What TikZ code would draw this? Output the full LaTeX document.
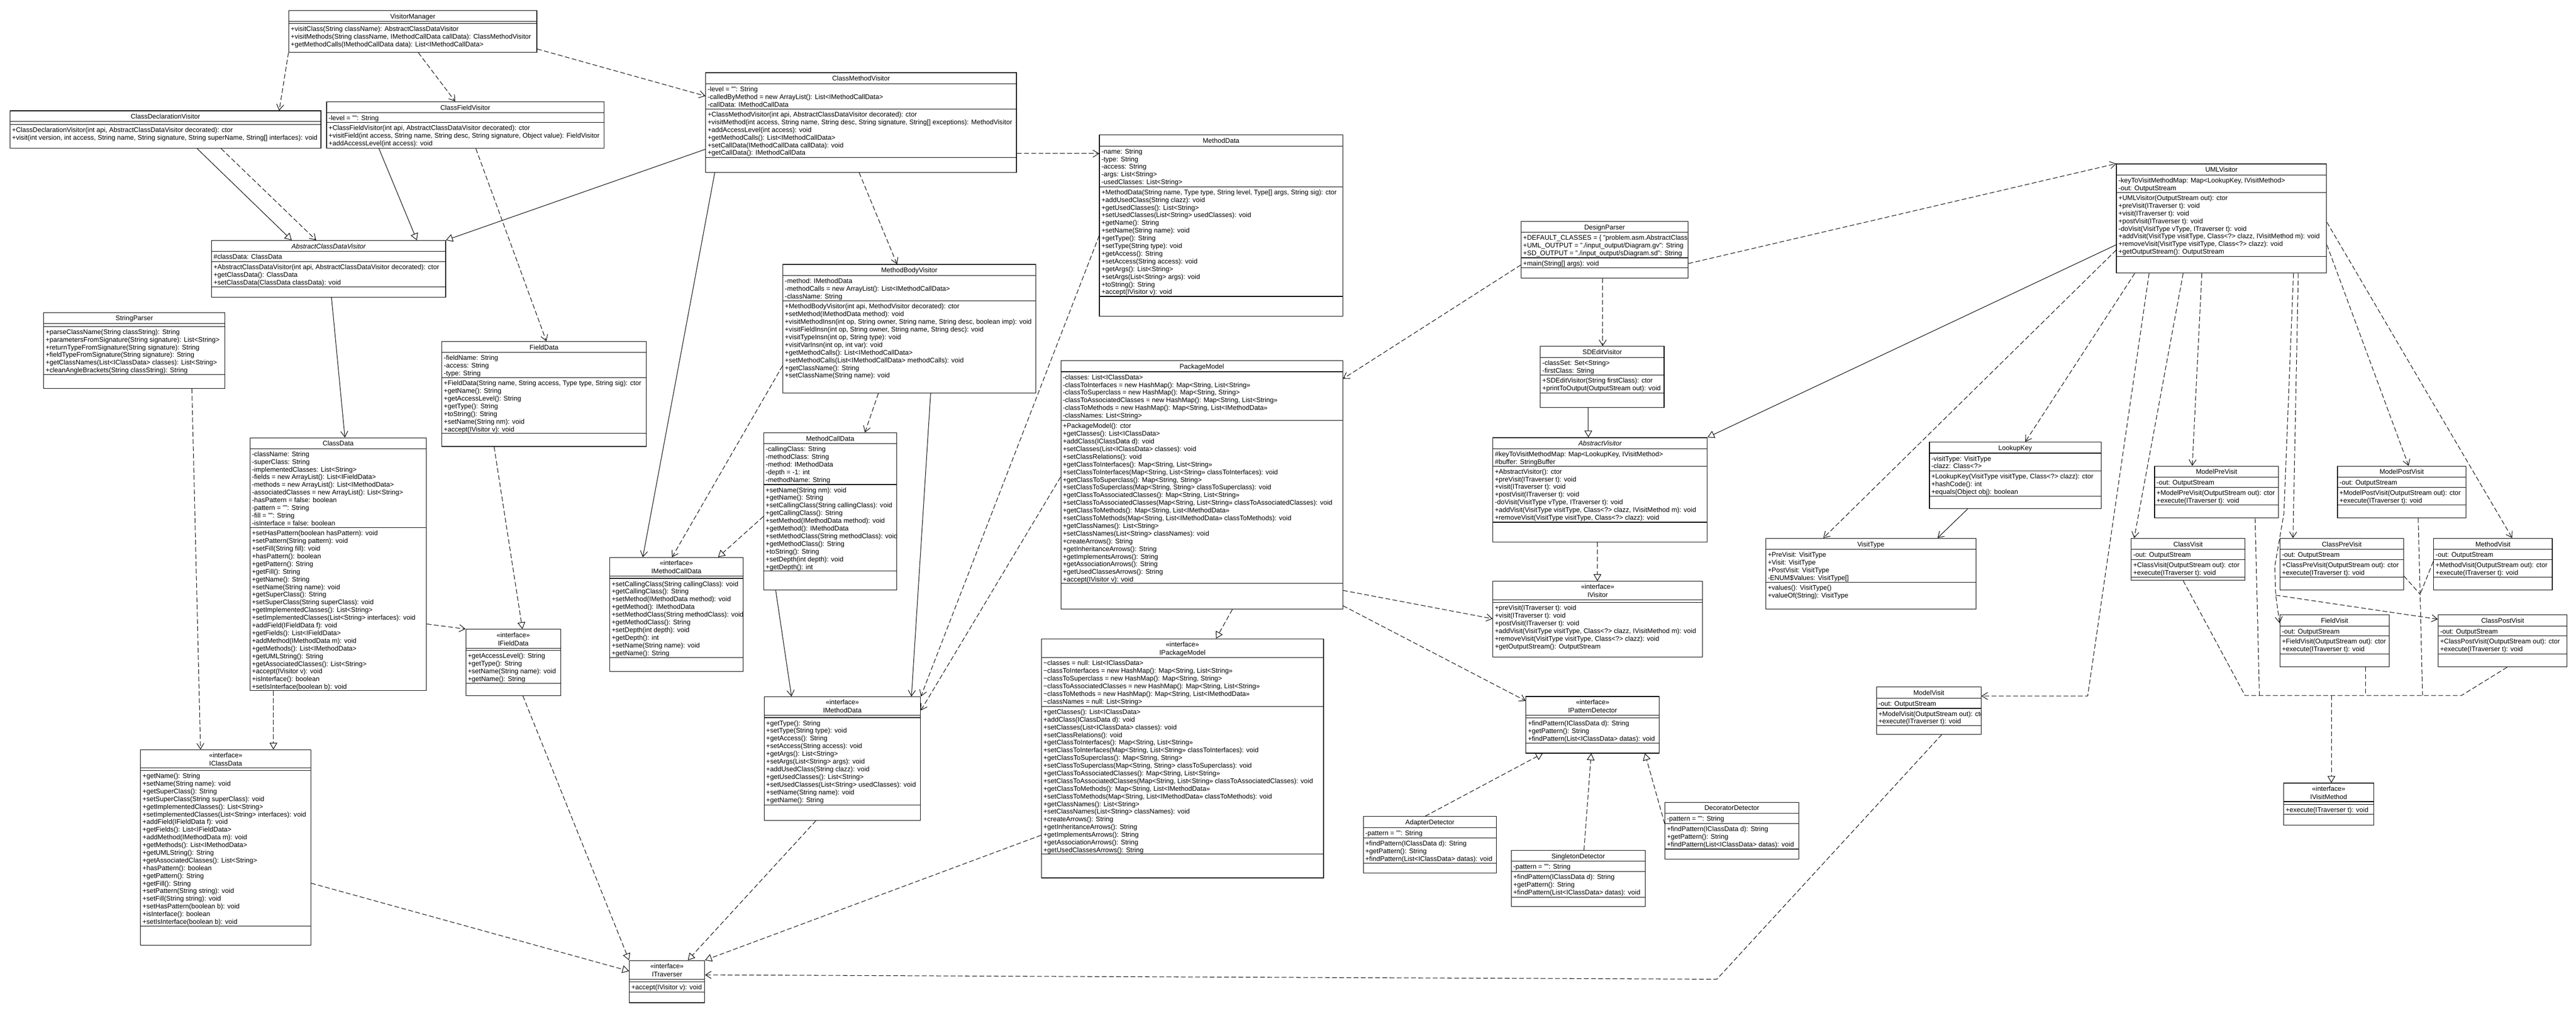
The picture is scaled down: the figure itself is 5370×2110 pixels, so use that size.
\documentclass[tikz,border=0pt]{standalone}
\usepackage{fontspec}
\setmainfont{Liberation Sans}
\usetikzlibrary{arrows.meta,fit}
\newcommand\fs{\fontsize{14}{16}\selectfont}
\tikzset{
  boxline/.style={draw, line width=1.3pt},
  sepline/.style={line width=1.2pt},
  ttl/.style={inner sep=0pt, anchor=base, font=\fs},
  txt/.style={anchor=north west, inner sep=0pt, align=left, font=\fs},
  conn/.style={line width=1.1pt},
  dsh/.style={conn, dash pattern=on 10pt off 5pt},
  dep/.style={dsh, -{Straight Barb[length=12pt,width=15pt]}},
  assoc/.style={conn, -{Straight Barb[length=12pt,width=15pt]}},
  gen/.style={conn, -{Triangle[length=14pt,width=16pt,fill=white]}},
  real/.style={dsh, -{Triangle[length=14pt,width=16pt,fill=white]}},
}
% name x1 y1 x2 y2 titlebottom title
\newcommand\ubox[7]{%
  \node[boxline, fit={({#2},{#3}) ({#4},{#5})}, inner sep=0pt] (#1) {};
  \node[ttl] (#1-t) at ({(#2+#4)/2},{(#3+#6)/2+5.5}) {#7};
  \draw[sepline] ({#2},{#6}) -- ({#4},{#6});}
\newcommand\uibox[7]{%
  \node[boxline, fit={({#2},{#3}) ({#4},{#5})}, inner sep=0pt] (#1) {};
  \node[ttl] (#1-s) at ({(#2+#4)/2},{(#3+#6)/2-3}) {«interface»};
  \node[ttl] (#1-t) at ({(#2+#4)/2},{(#3+#6)/2+14}) {#7};
  \draw[sepline] ({#2},{#6}) -- ({#4},{#6});}
\newcommand\usep[3]{\draw[sepline] ({#1},{#3}) -- ({#2},{#3});}
\newcommand\utx[4]{\node[txt] (#1) at ({#2+4},{#3+5}) {\rule{0pt}{11pt}#4};}
\newcommand\uvisit[6]{%
  \ubox{#1}{#2}{#3}{#4}{#5}{#3+23}{#6}
  \utx{#1-a}{#2}{#3+23}{-out: OutputStream}
  \usep{#2}{#4}{#3+44}
  \utx{#1-m}{#2}{#3+44}{+#6(OutputStream out): ctor\\+execute(ITraverser t): void}
  \usep{#2}{#4}{#3+81}}
\newcommand\udet[6]{%
  \ubox{#1}{#2}{#3}{#4}{#5}{#3+23}{#6}
  \utx{#1-a}{#2}{#3+23}{-pattern = "": String}
  \usep{#2}{#4}{#3+44.6}
  \utx{#1-m}{#2}{#3+44.6}{+findPattern(IClassData d): String\\+getPattern(): String\\+findPattern(List<IClassData> datas): void}
  \usep{#2}{#4}{#3+97.6}}
\begin{document}
\begin{tikzpicture}[x=1pt,y=-1pt]
\fill[white] (0,0) rectangle (5370,2110);
\useasboundingbox (0,0) rectangle (5370,2110);

% VisitorManager
\ubox{vm}{602}{22}{1119}{109}{44.5}{VisitorManager}
\usep{602}{1119}{49}
\utx{vm-m}{602}{49}{+visitClass(String className): AbstractClassDataVisitor\\+visitMethods(String className, IMethodCallData callData): ClassMethodVisitor\\+getMethodCalls(IMethodCallData data): List<IMethodCallData>}

% ClassDeclarationVisitor
\ubox{cdv}{21}{231}{669}{309}{253}{ClassDeclarationVisitor}
\usep{21}{669}{259}
\utx{cdv-m}{21}{259}{+ClassDeclarationVisitor(int api, AbstractClassDataVisitor decorated): ctor\\+visit(int version, int access, String name, String signature, String superName, String[] interfaces): void}

% ClassFieldVisitor
\ubox{cfv}{681}{212}{1259}{309}{235}{ClassFieldVisitor}
\utx{cfv-a}{681}{235}{-level = "": String}
\usep{681}{1259}{255}
\utx{cfv-m}{681}{255}{+ClassFieldVisitor(int api, AbstractClassDataVisitor decorated): ctor\\+visitField(int access, String name, String desc, String signature, Object value): FieldVisitor\\+addAccessLevel(int access): void}

% AbstractClassDataVisitor
\ubox{acdv}{441}{501}{929}{619}{524}{\itshape AbstractClassDataVisitor}
\utx{acdv-a}{441}{524}{\#classData: ClassData}
\usep{441}{929}{545}
\utx{acdv-m}{441}{545}{+AbstractClassDataVisitor(int api, AbstractClassDataVisitor decorated): ctor\\+getClassData(): ClassData\\+setClassData(ClassData classData): void}
\usep{441}{929}{598}

% StringParser
\ubox{sp}{91}{651}{469}{809}{674}{StringParser}
\usep{91}{469}{680}
\utx{sp-m}{91}{680}{+parseClassName(String classString): String\\+parametersFromSignature(String signature): List<String>\\+returnTypeFromSignature(String signature): String\\+fieldTypeFromSignature(String signature): String\\+getClassNames(List<IClassData> classes): List<String>\\+cleanAngleBrackets(String classString): String}
\usep{91}{469}{780}

% ClassMethodVisitor
\ubox{cmv}{1471}{151.5}{2119}{359}{174.5}{ClassMethodVisitor}
\utx{cmv-a}{1471}{174.5}{-level = "": String\\-calledByMethod = new ArrayList(): List<IMethodCallData>\\-callData: IMethodCallData}
\usep{1471}{2119}{227}
\utx{cmv-m}{1471}{227}{+ClassMethodVisitor(int api, AbstractClassDataVisitor decorated): ctor\\+visitMethod(int access, String name, String desc, String signature, String[] exceptions): MethodVisitor\\+addAccessLevel(int access): void\\+getMethodCalls(): List<IMethodCallData>\\+setCallData(IMethodCallData callData): void\\+getCallData(): IMethodCallData}
\usep{1471}{2119}{328}

% MethodData
\ubox{md}{2292}{281}{2799}{659}{304}{MethodData}
\utx{md-a}{2292}{304}{-name: String\\-type: String\\-access: String\\-args: List<String>\\-usedClasses: List<String>}
\usep{2292}{2799}{389}
\utx{md-m}{2292}{389}{+MethodData(String name, Type type, String level, Type[] args, String sig): ctor\\+addUsedClass(String clazz): void\\+getUsedClasses(): List<String>\\+setUsedClasses(List<String> usedClasses): void\\+getName(): String\\+setName(String name): void\\+getType(): String\\+setType(String type): void\\+getAccess(): String\\+setAccess(String access): void\\+getArgs(): List<String>\\+setArgs(List<String> args): void\\+toString(): String\\+accept(IVisitor v): void}
\usep{2292}{2799}{617.5}

% MethodBodyVisitor
\ubox{mbv}{1632}{551}{2159}{819}{574}{MethodBodyVisitor}
\utx{mbv-a}{1632}{574}{-method: IMethodData\\-methodCalls = new ArrayList(): List<IMethodCallData>\\-className: String}
\usep{1632}{2159}{627}
\utx{mbv-m}{1632}{627}{+MethodBodyVisitor(int api, MethodVisitor decorated): ctor\\+setMethod(IMethodData method): void\\+visitMethodInsn(int op, String owner, String name, String desc, boolean imp): void\\+visitFieldInsn(int op, String owner, String name, String desc): void\\+visitTypeInsn(int op, String type): void\\+visitVarInsn(int op, int var): void\\+getMethodCalls(): List<IMethodCallData>\\+setMethodCalls(List<IMethodCallData> methodCalls): void\\+getClassName(): String\\+setClassName(String name): void}

% FieldData
\ubox{fd}{921}{711.5}{1347}{930}{734}{FieldData}
\utx{fd-a}{921}{734}{-fieldName: String\\-access: String\\-type: String}
\usep{921}{1347}{787}
\utx{fd-m}{921}{787}{+FieldData(String name, String access, Type type, String sig): ctor\\+getName(): String\\+getAccessLevel(): String\\+getType(): String\\+toString(): String\\+setName(String nm): void\\+accept(IVisitor v): void}
\usep{921}{1347}{903}

% ClassData
\ubox{cd}{521}{912}{889}{1439}{934.6}{ClassData}
\utx{cd-a}{521}{934.6}{-className: String\\-superClass: String\\-implementedClasses: List<String>\\-fields = new ArrayList(): List<IFieldData>\\-methods = new ArrayList(): List<IMethodData>\\-associatedClasses = new ArrayList(): List<String>\\-hasPattern = false: boolean\\-pattern = "": String\\-fill = "": String\\-isInterface = false: boolean}
\usep{521}{889}{1099.4}
\utx{cd-m}{521}{1099.4}{+setHasPattern(boolean hasPattern): void\\+setPattern(String pattern): void\\+setFill(String fill): void\\+hasPattern(): boolean\\+getPattern(): String\\+getFill(): String\\+getName(): String\\+setName(String name): void\\+getSuperClass(): String\\+setSuperClass(String superClass): void\\+getImplementedClasses(): List<String>\\+setImplementedClasses(List<String> interfaces): void\\+addField(IFieldData f): void\\+getFields(): List<IFieldData>\\+addMethod(IMethodData m): void\\+getMethods(): List<IMethodData>\\+getUMLString(): String\\+getAssociatedClasses(): List<String>\\+accept(IVisitor v): void\\+isInterface(): boolean\\+setIsInterface(boolean b): void}

% IFieldData
\uibox{ifd}{971}{1311}{1169}{1449}{1350.6}{IFieldData}
\usep{971}{1169}{1355}
\utx{ifd-m}{971}{1355}{+getAccessLevel(): String\\+getType(): String\\+setName(String name): void\\+getName(): String}
\usep{971}{1169}{1424}

% MethodCallData
\ubox{mcd}{1592}{901.6}{1869}{1229}{924.5}{MethodCallData}
\utx{mcd-a}{1592}{924.5}{-callingClass: String\\-methodClass: String\\-method: IMethodData\\-depth = -1: int\\-methodName: String}
\usep{1592}{1869}{1009.5}
\utx{mcd-m}{1592}{1009.5}{+setName(String nm): void\\+getName(): String\\+setCallingClass(String callingClass): void\\+getCallingClass(): String\\+setMethod(IMethodData method): void\\+getMethod(): IMethodData\\+setMethodClass(String methodClass): void\\+getMethodClass(): String\\+toString(): String\\+setDepth(int depth): void\\+getDepth(): int}
\usep{1592}{1869}{1189.4}

% IMethodCallData
\uibox{imcd}{1271}{1161.4}{1549}{1398.8}{1200.5}{IMethodCallData}
\usep{1271}{1549}{1205}
\utx{imcd-m}{1271}{1205}{+setCallingClass(String callingClass): void\\+getCallingClass(): String\\+setMethod(IMethodData method): void\\+getMethod(): IMethodData\\+setMethodClass(String methodClass): void\\+getMethodClass(): String\\+setDepth(int depth): void\\+getDepth(): int\\+setName(String name): void\\+getName(): String}
\usep{1271}{1549}{1370}

% PackageModel
\ubox{pm}{2211.5}{751.4}{2799}{1269}{774.4}{PackageModel}
\utx{pm-a}{2211.5}{774.4}{-classes: List<IClassData>\\-classToInterfaces = new HashMap(): Map<String, List<String»\\-classToSuperclass = new HashMap(): Map<String, String>\\-classToAssociatedClasses = new HashMap(): Map<String, List<String»\\-classToMethods = new HashMap(): Map<String, List<IMethodData»\\-classNames: List<String>}
\usep{2211.5}{2799}{876}
\utx{pm-m}{2211.5}{876}{+PackageModel(): ctor\\+getClasses(): List<IClassData>\\+addClass(IClassData d): void\\+setClasses(List<IClassData> classes): void\\+setClassRelations(): void\\+getClassToInterfaces(): Map<String, List<String»\\+setClassToInterfaces(Map<String, List<String» classToInterfaces): void\\+getClassToSuperclass(): Map<String, String>\\+setClassToSuperclass(Map<String, String> classToSuperclass): void\\+getClassToAssociatedClasses(): Map<String, List<String»\\+setClassToAssociatedClasses(Map<String, List<String» classToAssociatedClasses): void\\+getClassToMethods(): Map<String, List<IMethodData»\\+setClassToMethods(Map<String, List<IMethodData» classToMethods): void\\+getClassNames(): List<String>\\+setClassNames(List<String> classNames): void\\+createArrows(): String\\+getInheritanceArrows(): String\\+getImplementsArrows(): String\\+getAssociationArrows(): String\\+getUsedClassesArrows(): String\\+accept(IVisitor v): void}
\usep{2211.5}{2799}{1215.6}

% IPackageModel
\uibox{ipm}{2171}{1331}{2759}{1829}{1370}{IPackageModel}
\utx{ipm-a}{2171}{1370}{\textasciitilde classes = null: List<IClassData>\\\textasciitilde classToInterfaces = new HashMap(): Map<String, List<String»\\\textasciitilde classToSuperclass = new HashMap(): Map<String, String>\\\textasciitilde classToAssociatedClasses = new HashMap(): Map<String, List<String»\\\textasciitilde classToMethods = new HashMap(): Map<String, List<IMethodData»\\\textasciitilde classNames = null: List<String>}
\usep{2171}{2759}{1471.6}
\utx{ipm-m}{2171}{1471.6}{+getClasses(): List<IClassData>\\+addClass(IClassData d): void\\+setClasses(List<IClassData> classes): void\\+setClassRelations(): void\\+getClassToInterfaces(): Map<String, List<String»\\+setClassToInterfaces(Map<String, List<String» classToInterfaces): void\\+getClassToSuperclass(): Map<String, String>\\+setClassToSuperclass(Map<String, String> classToSuperclass): void\\+getClassToAssociatedClasses(): Map<String, List<String»\\+setClassToAssociatedClasses(Map<String, List<String» classToAssociatedClasses): void\\+getClassToMethods(): Map<String, List<IMethodData»\\+setClassToMethods(Map<String, List<IMethodData» classToMethods): void\\+getClassNames(): List<String>\\+setClassNames(List<String> classNames): void\\+createArrows(): String\\+getInheritanceArrows(): String\\+getImplementsArrows(): String\\+getAssociationArrows(): String\\+getUsedClassesArrows(): String}
\usep{2171}{2759}{1778.6}

% IMethodData
\uibox{imd}{1593}{1451.6}{1919}{1709}{1490}{IMethodData}
\usep{1593}{1919}{1495}
\utx{imd-m}{1593}{1495}{+getType(): String\\+setType(String type): void\\+getAccess(): String\\+setAccess(String access): void\\+getArgs(): List<String>\\+setArgs(List<String> args): void\\+addUsedClass(String clazz): void\\+getUsedClasses(): List<String>\\+setUsedClasses(List<String> usedClasses): void\\+setName(String name): void\\+getName(): String}
\usep{1593}{1919}{1676.7}

% IClassData
\uibox{icd}{293}{1562}{648}{1969}{1600}{IClassData}
\usep{293}{648}{1605}
\utx{icd-m}{293}{1605}{+getName(): String\\+setName(String name): void\\+getSuperClass(): String\\+setSuperClass(String superClass): void\\+getImplementedClasses(): List<String>\\+setImplementedClasses(List<String> interfaces): void\\+addField(IFieldData f): void\\+getFields(): List<IFieldData>\\+addMethod(IMethodData m): void\\+getMethods(): List<IMethodData>\\+getUMLString(): String\\+getAssociatedClasses(): List<String>\\+hasPattern(): boolean\\+getPattern(): String\\+getFill(): String\\+setPattern(String string): void\\+setFill(String string): void\\+setHasPattern(boolean b): void\\+isInterface(): boolean\\+setIsInterface(boolean b): void}
\usep{293}{648}{1929}

% ITraverser
\uibox{it}{1312}{2001}{1469}{2089}{2040}{ITraverser}
\usep{1312}{1469}{2045}
\utx{it-m}{1312}{2045}{+accept(IVisitor v): void}
\usep{1312}{1469}{2066.7}

% DesignParser
\ubox{dp}{3171}{461}{3519}{579}{484}{DesignParser}
\begin{scope}
\clip (3171,461) rectangle (3518,579);
\utx{dp-a}{3171}{484}{+DEFAULT\_CLASSES = \{ "problem.asm.AbstractClassDataVisitor", "problem.asm.ClassDeclarationVisitor" \}: String[]\\+UML\_OUTPUT = "./input\_output/Diagram.gv": String\\+SD\_OUTPUT = "./input\_output/sDiagram.sd": String}
\end{scope}
\usep{3171}{3519}{537}
\utx{dp-m}{3171}{537}{+main(String[] args): void}
\usep{3171}{3519}{558}

% UMLVisitor
\ubox{uv}{4412}{341.6}{4850}{569}{364.5}{UMLVisitor}
\utx{uv-a}{4412}{364.5}{-keyToVisitMethodMap: Map<LookupKey, IVisitMethod>\\-out: OutputStream}
\usep{4412}{4850}{401}
\utx{uv-m}{4412}{401}{+UMLVisitor(OutputStream out): ctor\\+preVisit(ITraverser t): void\\+visit(ITraverser t): void\\+postVisit(ITraverser t): void\\-doVisit(VisitType vType, ITraverser t): void\\+addVisit(VisitType visitType, Class<?> clazz, IVisitMethod m): void\\+removeVisit(VisitType visitType, Class<?> clazz): void\\+getOutputStream(): OutputStream}
\usep{4412}{4850}{534}

% SDEditVisitor
\ubox{sdv}{3211}{721.6}{3469}{849}{744.5}{SDEditVisitor}
\utx{sdv-a}{3211}{744.5}{-classSet: Set<String>\\-firstClass: String}
\usep{3211}{3469}{781}
\utx{sdv-m}{3211}{781}{+SDEditVisitor(String firstClass): ctor\\+printToOutput(OutputStream out): void}
\usep{3211}{3469}{818.5}

% AbstractVisitor
\ubox{av}{3112}{911.7}{3559}{1129}{934.6}{\itshape AbstractVisitor}
\utx{av-a}{3112}{934.6}{\#keyToVisitMethodMap: Map<LookupKey, IVisitMethod>\\\#buffer: StringBuffer}
\usep{3112}{3559}{971}
\utx{av-m}{3112}{971}{+AbstractVisitor(): ctor\\+preVisit(ITraverser t): void\\+visit(ITraverser t): void\\+postVisit(ITraverser t): void\\-doVisit(VisitType vType, ITraverser t): void\\+addVisit(VisitType visitType, Class<?> clazz, IVisitMethod m): void\\+removeVisit(VisitType visitType, Class<?> clazz): void}
\usep{3112}{3559}{1088}

% IVisitor
\uibox{iv}{3112}{1211}{3549}{1369}{1249.6}{IVisitor}
\usep{3112}{3549}{1255}
\utx{iv-m}{3112}{1255}{+preVisit(ITraverser t): void\\+visit(ITraverser t): void\\+postVisit(ITraverser t): void\\+addVisit(VisitType visitType, Class<?> clazz, IVisitMethod m): void\\+removeVisit(VisitType visitType, Class<?> clazz): void\\+getOutputStream(): OutputStream}

% VisitType
\ubox{vt}{3681}{1121.5}{4119}{1269}{1144.4}{VisitType}
\utx{vt-a}{3681}{1144.4}{+PreVisit: VisitType\\+Visit: VisitType\\+PostVisit: VisitType\\-ENUM\$Values: VisitType[]}
\usep{3681}{4119}{1213}
\utx{vt-m}{3681}{1213}{+values(): VisitType()\\+valueOf(String): VisitType}

% LookupKey
\ubox{lk}{4022}{921}{4380}{1059.5}{944}{LookupKey}
\utx{lk-a}{4022}{944}{-visitType: VisitType\\-clazz: Class<?>}
\usep{4022}{4380}{981.4}
\utx{lk-m}{4022}{981.4}{+LookupKey(VisitType visitType, Class<?> clazz): ctor\\+hashCode(): int\\+equals(Object obj): boolean}
\usep{4022}{4380}{1034}

% Visits
\uvisit{mprev}{4491.5}{971}{4750}{1079}{ModelPreVisit}
\uvisit{mpostv}{4872.7}{971}{5140.8}{1079}{ModelPostVisit}
\uvisit{clv}{4442.7}{1121.5}{4680}{1209}{ClassVisit}
\uvisit{cprev}{4752.8}{1121.5}{5010.6}{1229}{ClassPreVisit}
\uvisit{mv}{5073}{1121.5}{5320.6}{1229}{MethodVisit}
\uvisit{fv}{4752.8}{1281}{4980.6}{1389}{FieldVisit}
\uvisit{cpostv}{5082.5}{1281}{5351.5}{1389}{ClassPostVisit}

% ModelVisit (text clipped)
\ubox{mvis}{3911.6}{1430.8}{4130}{1529.5}{1454.8}{ModelVisit}
\utx{mvis-a}{3911.6}{1454.8}{-out: OutputStream}
\usep{3911.6}{4130}{1475.6}
\begin{scope}
\clip (3911.6,1475.6) rectangle (4129,1511.9);
\utx{mvis-m}{3911.6}{1475.6}{+ModelVisit(OutputStream out): ctor\\+execute(ITraverser t): void}
\end{scope}
\usep{3911.6}{4130}{1511.9}

% IVisitMethod
\uibox{ivm}{4760.6}{1631.4}{4948}{1719.3}{1670}{IVisitMethod}
\usep{4760.6}{4948}{1675.8}
\utx{ivm-m}{4760.6}{1675.8}{+execute(ITraverser t): void}
\usep{4760.6}{4948}{1696.6}

% IPatternDetector
\uibox{ipd}{3181}{1451}{3459}{1569}{1490}{IPatternDetector}
\usep{3181}{3459}{1495.6}
\utx{ipd-m}{3181}{1495.6}{+findPattern(IClassData d): String\\+getPattern(): String\\+findPattern(List<IClassData> datas): void}
\usep{3181}{3459}{1548}

% Detectors
\udet{ad}{2842}{1701}{3119.5}{1819}{AdapterDetector}
\udet{sd}{3150.5}{1771.4}{3429.4}{1889}{SingletonDetector}
\udet{dd}{3470.8}{1671.3}{3749.7}{1789.5}{DecoratorDetector}

% ---------------- connectors ----------------
\draw[dep] (vm.south west) -- (cdv.north -| 582,0);
\draw[dep] (vm.south -| 872,0) -- (cfv.north -| 949,0);
\draw[dep] (vm.east |- 0,102) -- (cmv.west |- 0,200);
\draw[gen] (cdv.south -| 411,0) -- (acdv.north -| 608,0);
\draw[dep] (cdv.south -| 461,0) -- (acdv.north -| 659,0);
\draw[gen] (cfv.south -| 790,0) -- (acdv.north -| 869,0);
\draw[gen] (cmv.west |- 0,311) -- (acdv.north east);
\draw[dep] (cfv.south -| 992,0) -- (fd.north -| 1139,0);
\draw[assoc] (acdv.south -| 691,0) -- (cd.north -| 719,0);
\draw[dep] (sp.south -| 400,0) -- (icd.north -| 418,0);
\draw[real] (cd.south -| 570,0) -- (icd.north -| 570,0);
\draw[dep] (cd.east |- 0,1300) -- (ifd.north west);
\draw[real] (fd.south -| 1030,0) -- (ifd.north -| 1089,0);
\draw[real] (icd.east |- 0,1840) -- (it.west |- 0,2023);
\draw[real] (ifd.south -| 1090,0) -- (it.north west);
\draw[real] (imd.south -| 1701,0) -- (it.north -| 1434,0);
\draw[real] (ipm.west |- 0,1740) -- (it.north east);
\coordinate (b1) at (3579,2040);
\draw[dep] (mvis.south -| 4048,0) -- (b1) -- (it.east |- 0,2031);
\draw[dep] (cmv.east |- 0,320) -- (md.west |- 0,320);
\draw[dep] (cmv.south -| 1791,0) -- (mbv.north -| 1870,0);
\draw[assoc] (cmv.south -| 1490,0) -- (imcd.north -| 1340,0);
\draw[dep] (mbv.south -| 1831,0) -- (mcd.north -| 1803,0);
\draw[dep] (mbv.west |- 0,762) -- (imcd.north -| 1401,0);
\draw[real] (mcd.west |- 0,1076) -- (imcd.north -| 1497,0);
\draw[assoc] (mcd.south -| 1617,0) -- (imd.north -| 1650,0);
\draw[assoc] (mbv.south -| 1940,0) -- (imd.north -| 1900,0);
\draw[dep] (md.west |- 0,491) -- (imd.north east);
\draw[dep] (pm.west |- 0,994) -- (imd.east |- 0,1480);
\draw[dep] (dp.west |- 0,552) -- (pm.east |- 0,789);
\draw[dep] (dp.south -| 3341,0) -- (sdv.north -| 3341,0);
\draw[dep] (dp.east |- 0,549) -- (uv.north west);
\draw[gen] (sdv.south -| 3311,0) -- (av.north -| 3311,0);
\draw[gen] (uv.west |- 0,510) -- (av.north east);
\draw[real] (av.south -| 3330,0) -- (iv.north -| 3330,0);
\draw[dep] (pm.east |- 0,1230) -- (iv.west |- 0,1289);
\draw[dep] (pm.east |- 0,1262) -- (ipd.west |- 0,1460);
\draw[real] (pm.south -| 2569,0) -- (ipm.north -| 2535,0);
\draw[dep] (uv.west |- 0,521) -- (vt.north -| 3801,0);
\draw[dep] (uv.south -| 4450,0) -- (lk.north -| 4222,0);
\draw[assoc] (lk.south -| 4102,0) -- (vt.north -| 4039,0);
\draw[dep] (uv.south -| 4551,0) -- (clv.north -| 4449,0);
\draw[dep] (uv.south -| 4590,0) -- (mprev.north -| 4570,0);
\draw[dep] (uv.south -| 4791,0) -- (cprev.north -| 4780,0);
\coordinate (b2a) at (4761,1070);
\coordinate (b2b) at (4742,1180);
\coordinate (b2) at (4744,1240);
\draw[dep] (uv.south -| 4781,0) -- (b2a) -- (b2b) -- (b2) -- (fv.west |- 0,1298);
\draw[dep] (b2) -- (cpostv.west |- 0,1290);
\draw[dep] (uv.east |- 0,510) -- (mpostv.north -| 5021,0);
\draw[dep] (uv.east |- 0,463) -- (mv.north -| 5237,0);
\coordinate (b3) at (4352,1450);
\draw[dep] (uv.south -| 4480,0) -- (b3) -- (mvis.east |- 0,1450);
% realization tree to IVisitMethod
\coordinate (t1) at (4680,1449);
\coordinate (t2) at (5131,1449);
\coordinate (t3) at (4860,1449);
\coordinate (t4) at (5045,1238);
\coordinate (t5) at (4710,1449);
\coordinate (t6) at (4931,1449);
\coordinate (t7) at (5050,1449);
\draw[dsh] (clv.south -| 4551,0) -- (t1) -- (t2) -- (cpostv.south -| 5227,0);
\draw[dsh] (mprev.south -| 4701,0) -- (t5);
\draw[dsh] (fv.south -| 4931,0) -- (t6);
\draw[dsh] (mpostv.south -| 5041,0) -- (t4) -- (t7);
\draw[dsh] (cprev.east |- 0,1200) -- (t4);
\draw[dsh] (mv.west |- 0,1170) -- (t4);
\draw[real] (t3) -- (ivm.north -| 4860,0);
% detectors
\draw[real] (ad.north -| 2971,0) -- (ipd.south -| 3216,0);
\draw[real] (sd.north -| 3302,0) -- (ipd.south -| 3317,0);
\draw[real] (dd.west |- 0,1716) -- (ipd.south -| 3429,0);
\end{tikzpicture}
\end{document}
